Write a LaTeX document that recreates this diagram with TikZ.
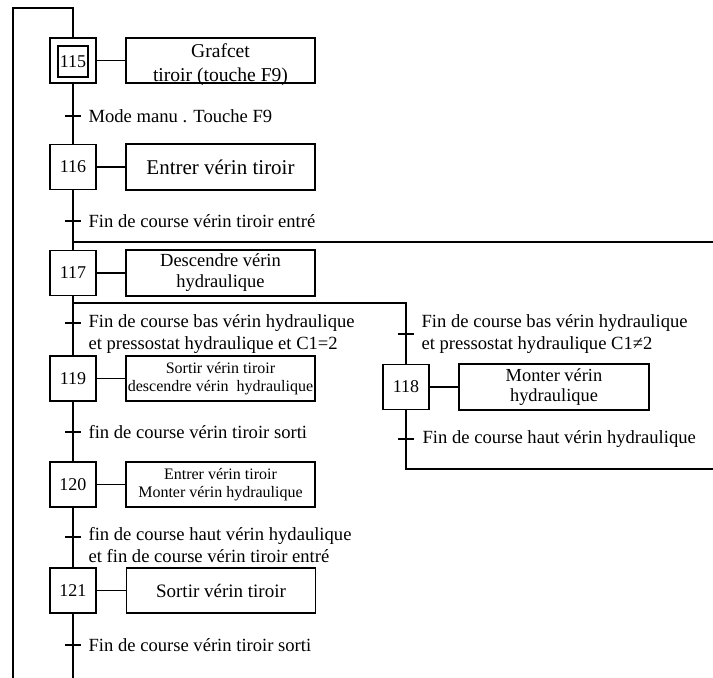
\documentclass[tikz,border=0pt]{standalone}
\usepackage{fontspec}
\setmainfont{Liberation Serif}
\newcommand\myfs[2]{\fontsize{#1pt}{#2pt}\selectfont}
\begin{document}
\begin{tikzpicture}[x=1pt,y=-1pt,line width=1.2pt,
  stepbox/.style={draw,minimum width=46pt,minimum height=45pt,inner sep=0pt,font=\myfs{18}{20}},
  actbox/.style={draw,minimum width=189pt,minimum height=45pt,inner sep=0pt,align=center},
  txt/.style={inner sep=0pt,align=center},
  lbl/.style={anchor=west,inner sep=0pt,align=left,font=\myfs{18.6}{21.5}}]
\useasboundingbox (0,0) rectangle (713,678);

% steps
\node[stepbox] (s115) at (73,60.5) {};
\node[draw,minimum width=30pt,minimum height=31pt,inner sep=0pt,font=\myfs{18}{20}] (s115i) at (73,61.5) {115};
\node[stepbox] (s116) at (73,167) {116};
\node[stepbox] (s117) at (73,273) {117};
\node[stepbox] (s119) at (73,378.5) {119};
\node[stepbox] (s120) at (73,484.5) {120};
\node[stepbox] (s121) at (73,590.5) {121};
\node[stepbox] (s118) at (406,387) {118};

% actions
\node[actbox] (a115) at (220.5,60.5) {};
\node[txt,font=\myfs{19.6}{24}] (t115) at (220.5,65) {Grafcet\\tiroir (touche F9)};
\node[actbox,minimum height=46pt,font=\myfs{21}{24}] (a116) at (220.5,167) {Entrer vérin tiroir};
\node[actbox,minimum height=46pt,font=\myfs{18.5}{21}] (a117) at (220.5,273) {Descendre vérin\\hydraulique};
\node[actbox,font=\myfs{16}{18}] (a119) at (220.5,378.5) {Sortir vérin tiroir\\descendre vérin\ \ hydraulique};
\node[actbox,font=\myfs{16}{18}] (a120) at (220.5,484.5) {Entrer vérin tiroir\\Monter vérin hydraulique};
\node[actbox,font=\myfs{19}{22}] (a121) at (221,590.5) {Sortir vérin tiroir};
\node[actbox,minimum width=190pt,minimum height=46pt,font=\myfs{18.4}{20}] (a118) at (554,387) {Monter vérin\\hydraulique};

\foreach \s in {115,116,117,119,120,121,118} \draw (s\s.east) -- (a\s.west);

% coordinates
\coordinate (topr) at (73,8);
\coordinate (topl) at (13,8);
\coordinate (botl) at (13,678);
\coordinate (bot) at (73,678);
\coordinate (j1) at (73,242);
\coordinate (j1r) at (713,242);
\coordinate (d1) at (73,303);
\coordinate (d1r) at (406,303);
\coordinate (e1) at (406,469);
\coordinate (e1r) at (713,469);

% main lines
\draw (s115.north) -- (topr) -- (topl) -- (botl);
\draw (s115.south) -- (s116.north);
\draw (s116.south) -- (s117.north);
\draw (j1) -- (j1r);
\draw (s117.south) -- (s119.north);
\draw (d1) -- (d1r) -- (s118.north);
\draw (s119.south) -- (s120.north);
\draw (s120.south) -- (s121.north);
\draw (s121.south) -- (bot);
\draw (s118.south) -- (e1) -- (e1r);

% transitions
\foreach \n/\x/\y in {t1/73/116, t2/73/221, t3/73/323, t4/73/432, t5/73/537, t6/73/645, t3r/406/334, t7/406/439} {
  \coordinate (\n) at (\x,\y);
  \draw ([xshift=-8pt]\n) -- ([xshift=8pt]\n);
}

\node[lbl] (l1) at (88,116) {Mode manu . Touche F9};
\node[lbl] (l2) at (88,221) {Fin de course vérin tiroir entré};
\node[lbl] (l3) at (88,334) {Fin de course bas vérin hydraulique\\et pressostat hydraulique et C1=2};
\node[lbl] (l4) at (88,432) {fin de course vérin tiroir sorti};
\node[lbl] (l5) at (88,545) {fin de course haut vérin hydaulique\\et fin de course vérin tiroir entré};
\node[lbl] (l6) at (88,645) {Fin de course vérin tiroir sorti};
\node[lbl] (l3r) at (421,334) {Fin de course bas vérin hydraulique\\et pressostat hydraulique C1≠2};
\node[lbl] (l7) at (422,439) {Fin de course haut vérin hydraulique};
\end{tikzpicture}
\end{document}
